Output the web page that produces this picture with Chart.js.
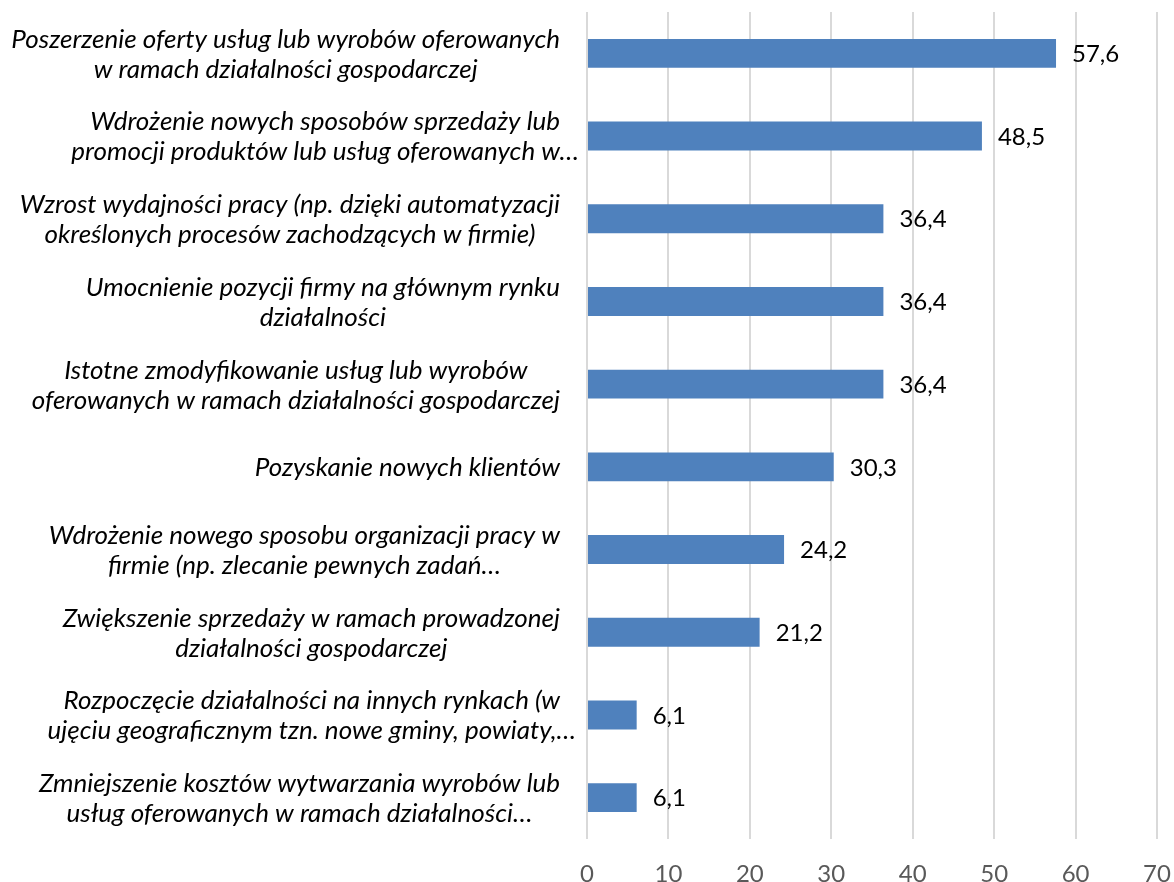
<!DOCTYPE html>
<html>
<head>
<meta charset="utf-8">
<script src="https://cdn.jsdelivr.net/npm/chart.js@4"></script>
<style>
  html, body { margin: 0; padding: 0; background: #fff; }
  #wrap { width: 1174px; height: 882px; }
</style>
</head>
<body>
<div id="wrap"><canvas id="c" width="1174" height="882"></canvas></div>
<script>
const categories = [
  ["Poszerzenie oferty usług lub wyrobów oferowanych", "w ramach działalności gospodarczej"],
  ["Wdrożenie nowych sposobów sprzedaży lub", "promocji produktów lub usług oferowanych w…"],
  ["Wzrost wydajności pracy (np. dzięki automatyzacji", "określonych procesów zachodzących w firmie)"],
  ["Umocnienie pozycji firmy na głównym rynku", "działalności"],
  ["Istotne zmodyfikowanie usług lub wyrobów", "oferowanych w ramach działalności gospodarczej"],
  ["Pozyskanie nowych klientów"],
  ["Wdrożenie nowego sposobu organizacji pracy w", "firmie (np. zlecanie pewnych zadań…"],
  ["Zwiększenie sprzedaży w ramach prowadzonej", "działalności gospodarczej"],
  ["Rozpoczęcie działalności na innych rynkach (w", "ujęciu geograficznym tzn. nowe gminy, powiaty,…"],
  ["Zmniejszenie kosztów wytwarzania wyrobów lub", "usług oferowanych w ramach działalności…"]
];
const values = [57.6, 48.5, 36.4, 36.4, 36.4, 30.3, 24.2, 21.2, 6.1, 6.1];
const xTicks = [0, 10, 20, 30, 40, 50, 60, 70];

const FONT = "Lato, 'Open Sans', sans-serif";

const labelPlugin = {
  id: 'catLabels',
  afterDraw(chart) {
    const ctx = chart.ctx;
    const ys = chart.scales.y;
    const right = 560;
    const lh = 30;
    ctx.save();
    ctx.font = "italic 26px " + FONT;
    ctx.fillStyle = '#000';
    ctx.textAlign = 'center';
    ctx.textBaseline = 'middle';
    categories.forEach((lines, i) => {
      const cy = ys.getPixelForValue(i) + 1;
      let w = 0;
      lines.forEach(l => { if (!l.endsWith('…')) w = Math.max(w, ctx.measureText(l).width); });
      if (w === 0) lines.forEach(l => { w = Math.max(w, ctx.measureText(l).width); });
      const cx = right - w / 2;
      const y0 = cy - (lines.length - 1) * lh / 2;
      lines.forEach((l, k) => ctx.fillText(l, cx, y0 + k * lh));
    });
    ctx.restore();
  }
};

const valuePlugin = {
  id: 'valLabels',
  afterDatasetsDraw(chart) {
    const ctx = chart.ctx;
    const meta = chart.getDatasetMeta(0);
    ctx.save();
    ctx.font = "24px " + FONT;
    ctx.fillStyle = '#000';
    ctx.textAlign = 'left';
    ctx.textBaseline = 'middle';
    meta.data.forEach((bar, i) => {
      ctx.fillText(values[i].toFixed(1).replace('.', ','), bar.x + 16, bar.y + 1);
    });
    ctx.restore();
  }
};

new Chart(document.getElementById('c'), {
  type: 'bar',
  data: {
    labels: categories.map(c => c.join(' ')),
    datasets: [{
      data: values,
      backgroundColor: '#4F81BD',
      borderWidth: 0,
      categoryPercentage: 1,
      barPercentage: 0.35
    }]
  },
  options: {
    indexAxis: 'y',
    responsive: false,
    animation: false,
    layout: { padding: { top: 12, right: 17, left: 0, bottom: 0 } },
    plugins: { legend: { display: false }, tooltip: { enabled: false } },
    scales: {
      x: {
        min: 0, max: 70,
        afterBuildTicks(scale) { scale.ticks = xTicks.map(v => ({ value: v })); },
        ticks: {
          color: '#595959',
          font: { family: FONT, size: 24 },
          padding: 21,
          maxRotation: 0
        },
        grid: { color: '#D9D9D9', lineWidth: 2, drawTicks: false },
        border: { display: false },
        afterFit(scale) { scale.height = 43; scale.paddingRight = 0; scale.paddingLeft = 0; }
      },
      y: {
        ticks: { display: false },
        grid: { display: false },
        border: { display: false },
        afterFit(scale) { scale.width = 587; scale.paddingTop = 0; scale.paddingBottom = 0; }
      }
    }
  },
  plugins: [labelPlugin, valuePlugin]
});
</script>
</body>
</html>
